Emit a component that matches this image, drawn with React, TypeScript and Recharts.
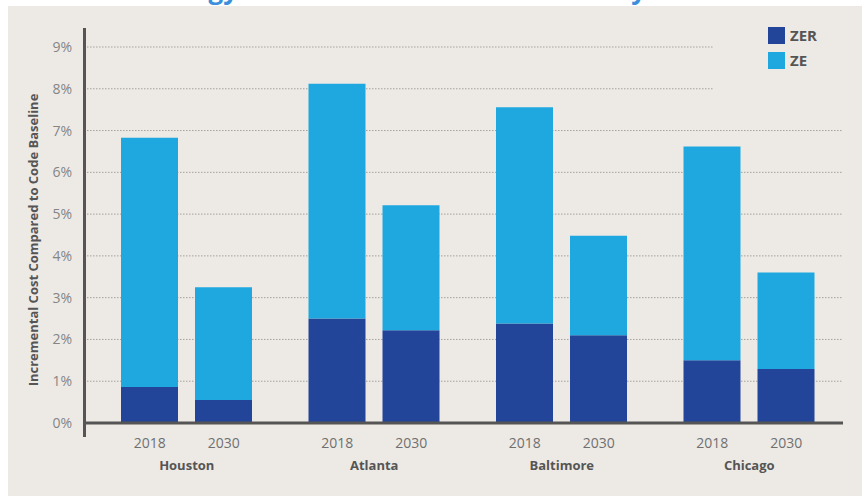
import { BarChart, Bar, XAxis, YAxis, CartesianGrid } from 'recharts';

const cities = ['Houston', 'Atlanta', 'Baltimore', 'Chicago'];
const years = ['2018', '2030'];
const zer2018 = [0.86, 2.5, 2.38, 1.5];
const ze2018 = [5.97, 5.62, 5.18, 5.12];
const zer2030 = [0.55, 2.22, 2.1, 1.29];
const ze2030 = [2.7, 2.99, 2.38, 2.31];
const yTicks = [0, 1, 2, 3, 4, 5, 6, 7, 8, 9];

const ZER_COLOR = '#22459a';
const ZE_COLOR = '#1fa8e0';
const BG = '#edeae5';
const FONT = '"Open Sans", sans-serif';

const data = cities.map((city, i) => ({
  city,
  zer2018: zer2018[i],
  ze2018: ze2018[i],
  zer2030: zer2030[i],
  ze2030: ze2030[i],
}));

const GroupTick = ({ x, y, payload }: any) => (
  <g fontFamily={FONT}>
    {years.map((yr, i) => (
      <text key={yr} x={x + (i === 0 ? -37 : 37)} y={y + 25} textAnchor="middle" fontSize={14} fill="#707070">
        {yr}
      </text>
    ))}
    <text x={x} y={y + 47} textAnchor="middle" fontSize={13} fontWeight={700} fill="#555">
      {payload.value}
    </text>
  </g>
);

const legendItems = [
  { name: 'ZER', color: ZER_COLOR },
  { name: 'ZE', color: ZE_COLOR },
];

export default function App() {
  return (
    <div style={{ position: 'absolute', left: 0, top: 0, width: 867, height: 497, background: '#fff', overflow: 'hidden', fontFamily: FONT }}>
      {/* title of the page above, cut by the crop */}
      <div style={{ position: 'absolute', right: 867 - 238, top: -24, fontSize: 26, lineHeight: '26px', fontWeight: 700, color: '#3b8fdc', whiteSpace: 'nowrap' }}>
        Energy
      </div>
      <div style={{ position: 'absolute', right: 867 - 646, top: -24, fontSize: 26, lineHeight: '26px', fontWeight: 700, color: '#3b8fdc', whiteSpace: 'nowrap' }}>
        City
      </div>
      <div style={{ position: 'absolute', left: 8, top: 6, width: 854, height: 490, background: BG }} />

      <div style={{ position: 'absolute', left: 0, top: 0 }}>
        <BarChart width={867} height={497} data={data} margin={{ top: 47, right: 24, bottom: 24, left: 44 }} barGap={17} barSize={57}>
          <CartesianGrid horizontal vertical={false} stroke="#a3a19e" strokeDasharray="1.5 1.5" />
          <XAxis
            dataKey="city"
            height={50}
            padding={{ left: 9, right: 0 }}
            axisLine={{ stroke: '#555', strokeWidth: 3 }}
            tickLine={false}
            tickSize={0}
            tickMargin={0}
            tick={<GroupTick />}
            interval={0}
          />
          <YAxis
            width={40}
            domain={[0, 9]}
            ticks={yTicks}
            axisLine={false}
            tickLine={false}
            tickSize={0}
            tickMargin={12}
            tickFormatter={(v: number) => `${v}%`}
            tick={{ fill: '#858585', fontSize: 14, fontFamily: FONT }}
          />
          <Bar dataKey="zer2018" stackId="2018" fill={ZER_COLOR} isAnimationActive={false} />
          <Bar dataKey="ze2018" stackId="2018" fill={ZE_COLOR} isAnimationActive={false} />
          <Bar dataKey="zer2030" stackId="2030" fill={ZER_COLOR} isAnimationActive={false} />
          <Bar dataKey="ze2030" stackId="2030" fill={ZE_COLOR} isAnimationActive={false} />
        </BarChart>
      </div>

      {/* y axis line, runs past the plot at both ends */}
      <div style={{ position: 'absolute', left: 82.5, top: 28, width: 3, height: 409, background: '#555' }} />

      <div
        style={{
          position: 'absolute',
          left: 33,
          top: 240,
          transform: 'translate(-50%, -50%) rotate(-90deg)',
          whiteSpace: 'nowrap',
          fontSize: 13,
          fontWeight: 700,
          color: '#555',
        }}
      >
        Incremental Cost Compared to Code Baseline
      </div>

      {/* legend */}
      <div style={{ position: 'absolute', left: 714, top: 30, width: 132, height: 80, background: BG }} />
      {legendItems.map((item, i) => (
        <div key={item.name} style={{ position: 'absolute', left: 768, top: 27 + i * 25, display: 'flex', alignItems: 'center' }}>
          <div style={{ width: 17, height: 17, background: item.color }} />
          <span style={{ marginLeft: 5, fontSize: 15, fontWeight: 700, color: '#555', lineHeight: '17px' }}>{item.name}</span>
        </div>
      ))}
    </div>
  );
}
